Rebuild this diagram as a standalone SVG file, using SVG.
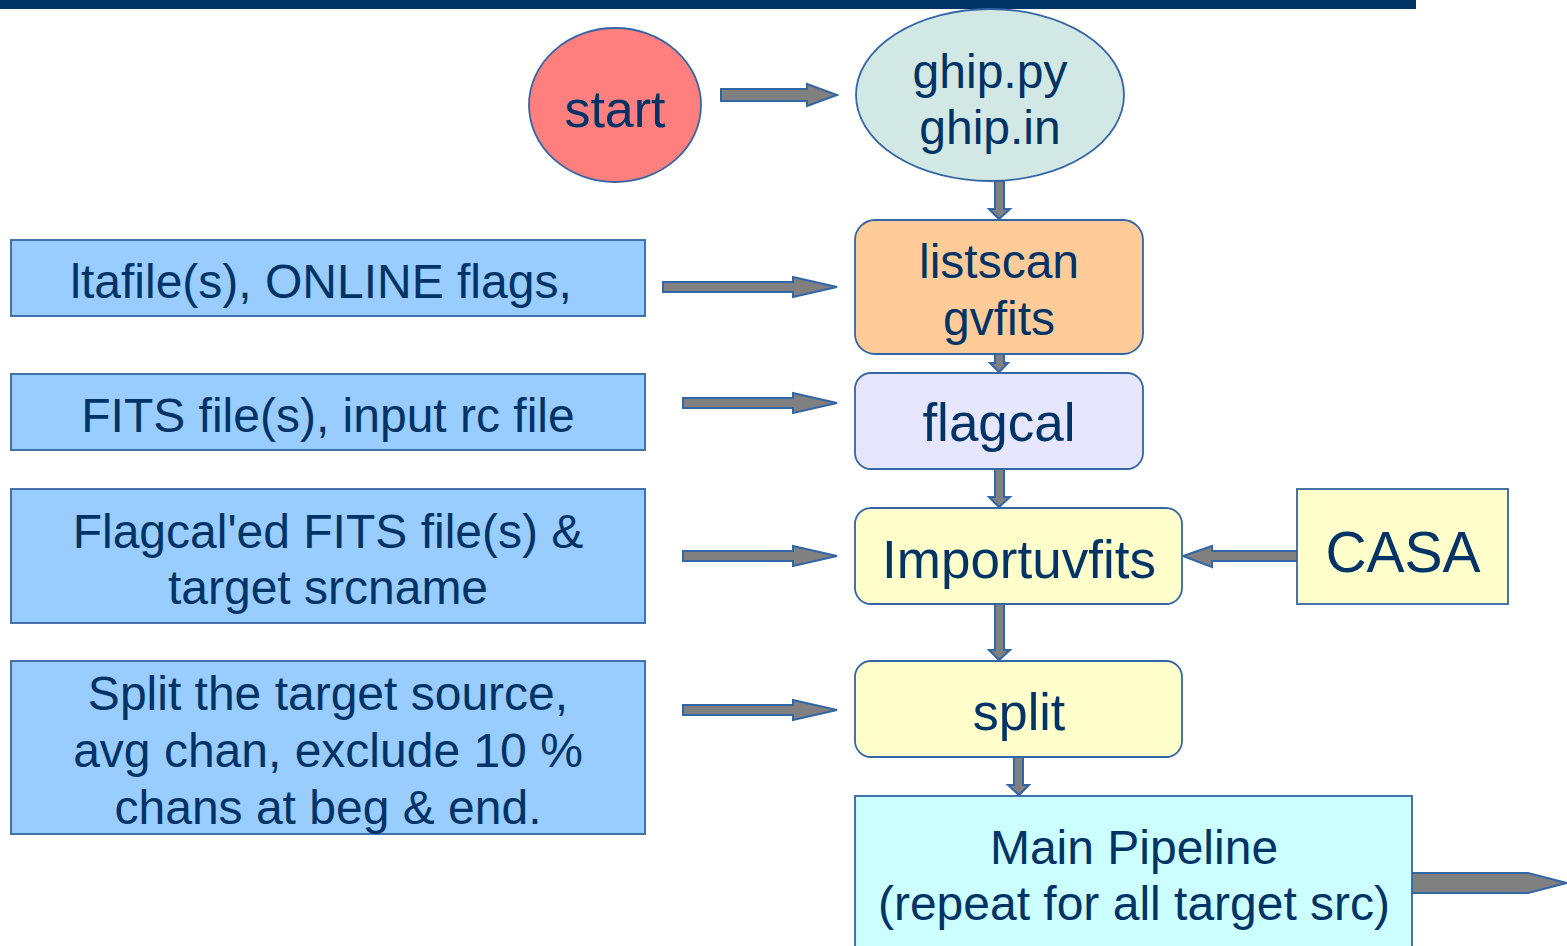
<svg xmlns="http://www.w3.org/2000/svg" width="1567" height="946" viewBox="0 0 1567 946">
<style>
.n{stroke:#3465a4;stroke-width:1.8}
.t{font-family:"Liberation Sans",Arial,sans-serif;fill:#003366;text-anchor:middle}
.a{fill:#808080;stroke:#3465a4;stroke-width:2;stroke-linejoin:miter}
</style>
<rect x="0" y="0" width="1416" height="9" fill="#003366"/>
<g id="connectors">
<polygon class="a" points="721,89 807,89 807,84 837,95 807,106 807,101 721,101"/>
<polygon class="a" points="995,181 1004,181 1004,209 1010,209 999,219 989,209 995,209"/>
<polygon class="a" points="995,354 1004,354 1004,363 1008,363 999,372 990,363 995,363"/>
<polygon class="a" points="995,469 1004,469 1004,497 1010,497 999,507 989,497 995,497"/>
<polygon class="a" points="995,604 1004,604 1004,650 1010,650 999,660 989,650 995,650"/>
<polygon class="a" points="1014,757 1023,757 1023,785 1029,785 1019,795 1008,785 1014,785"/>
<polygon class="a" points="1297,551 1212,551 1212,546 1183,556 1212,567 1212,561 1297,561"/>
<polygon class="a" points="663,282 793,282 793,277 837,287 793,297 793,292 663,292"/>
<polygon class="a" points="683,398 793,398 793,393 837,403 793,413 793,408 683,408"/>
<polygon class="a" points="683,551 793,551 793,546 837,556 793,566 793,561 683,561"/>
<polygon class="a" points="683,705 793,705 793,700 837,710 793,720 793,715 683,715"/>
<polygon class="a" points="1412,873 1528,873 1567,883 1528,893 1412,893"/>
</g>
<g id="start"><ellipse class="n" cx="615" cy="105" rx="86" ry="77" fill="#ff7f7f"/><text class="t" x="615" y="127" font-size="52">start</text></g>
<g id="ghip"><ellipse class="n" cx="990" cy="95" rx="134" ry="86" fill="#d1e8e4"/><text class="t" x="990" y="88" font-size="48">ghip.py</text><text class="t" x="990" y="144" font-size="48">ghip.in</text></g>
<g id="listscan"><rect class="n" x="855" y="220" width="288" height="134" rx="20" fill="#ffcc99"/><text class="t" x="999" y="278" font-size="48">listscan</text><text class="t" x="999" y="335" font-size="48">gvfits</text></g>
<g id="flagcal"><rect class="n" x="855" y="373" width="288" height="96" rx="16" fill="#e6e6ff"/><text class="t" x="999" y="441" font-size="53">flagcal</text></g>
<g id="importuvfits"><rect class="n" x="855" y="508" width="327" height="96" rx="16" fill="#ffffcc"/><text class="t" x="1019" y="578" font-size="53">Importuvfits</text></g>
<g id="casa"><rect class="n" x="1297" y="489" width="211" height="115" fill="#ffffcc"/><text class="t" x="1403" y="572" font-size="57">CASA</text></g>
<g id="split"><rect class="n" x="855" y="661" width="327" height="96" rx="16" fill="#ffffcc"/><text class="t" x="1019" y="730" font-size="52">split</text></g>
<g id="main"><rect class="n" x="855" y="796" width="557" height="160" fill="#ccffff"/><text class="t" x="1134" y="864" font-size="48">Main Pipeline</text><text class="t" x="1134" y="920" font-size="48">(repeat for all target src)</text></g>
<g id="in1"><rect class="n" x="11" y="240" width="634" height="76" fill="#99ccff"/><text class="t" x="321" y="298" font-size="48">ltafile(s), ONLINE flags,</text></g>
<g id="in2"><rect class="n" x="11" y="374" width="634" height="76" fill="#99ccff"/><text class="t" x="328" y="432" font-size="48">FITS file(s), input rc file</text></g>
<g id="in3"><rect class="n" x="11" y="489" width="634" height="134" fill="#99ccff"/><text class="t" x="328" y="548" font-size="48">Flagcal'ed FITS file(s) &amp;</text><text class="t" x="328" y="604" font-size="48">target srcname</text></g>
<g id="in4"><rect class="n" x="11" y="661" width="634" height="173" fill="#99ccff"/><text class="t" x="328" y="710" font-size="48">Split the target source,</text><text class="t" x="328" y="767" font-size="48">avg chan, exclude 10 %</text><text class="t" x="328" y="824" font-size="48">chans at beg &amp; end.</text></g>
</svg>
